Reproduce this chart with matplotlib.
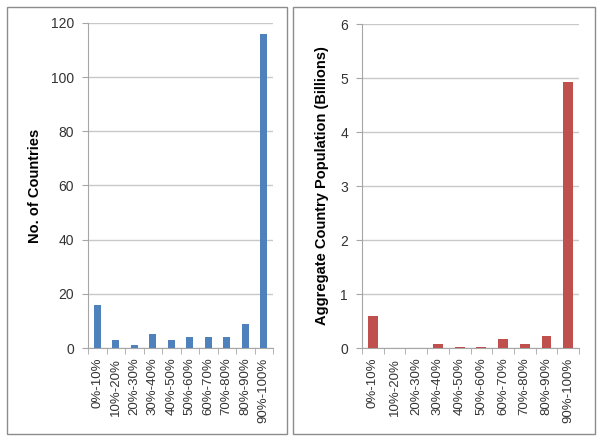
import matplotlib
matplotlib.use('Agg')
import matplotlib.pyplot as plt
from matplotlib.patches import Rectangle
import numpy as np

plt.rcParams['font.family'] = ['Liberation Sans', 'DejaVu Sans']

bins = ['0%-10%', '10%-20%', '20%-30%', '30%-40%', '40%-50%',
        '50%-60%', '60%-70%', '70%-80%', '80%-90%', '90%-100%']
countries = [16, 3, 1, 5, 3, 4, 4, 4, 9, 116]
population = [0.60, 0.0, 0.0, 0.08, 0.01, 0.01, 0.17, 0.07, 0.22, 4.93]

blue = '#4F81BD'
red = '#C0504D'
grid_c = '#C8C8C8'
axis_c = '#A6A6A6'

fig = plt.figure(figsize=(6, 4.4), dpi=100)

# outer frames around each chart
fig.patches.append(Rectangle((7 / 600, 1 - 434 / 440), 280 / 600, 427 / 440,
                             transform=fig.transFigure, fill=False,
                             edgecolor='#8C8C8C', linewidth=1.0))
fig.patches.append(Rectangle((293 / 600, 1 - 434 / 440), 302 / 600, 427 / 440,
                             transform=fig.transFigure, fill=False,
                             edgecolor='#8C8C8C', linewidth=1.0))

ax1 = fig.add_axes([88 / 600, 1 - 348 / 440, 185 / 600, 325 / 440])
ax2 = fig.add_axes([362 / 600, 1 - 348 / 440, 217 / 600, 324 / 440])


def style(ax, data, color, width, ymax, yticks, ylabel):
    x = np.arange(len(data))
    ax.bar(x, data, width, color=color, zorder=3)
    ax.set_xlim(-0.5, len(data) - 0.5)
    ax.set_ylim(0, ymax)
    ax.set_yticks(yticks)
    ax.set_xticks(x)
    ax.set_xticklabels(bins, rotation=90, fontsize=9.5, color='#333333')
    ax.set_xticks(np.arange(len(data) + 1) - 0.5, minor=True)
    ax.tick_params(axis='x', which='major', length=0, pad=7)
    ax.tick_params(axis='x', which='minor', length=4, color=axis_c, direction='out')
    ax.tick_params(axis='y', length=4, color=axis_c, direction='out',
                   labelsize=10, labelcolor='#333333', pad=6)
    ax.grid(axis='y', color=grid_c, linewidth=1.0, zorder=0)
    for s in ['top', 'right']:
        ax.spines[s].set_visible(False)
    ax.spines['left'].set_color(axis_c)
    ax.spines['bottom'].set_color(axis_c)
    ax.set_ylabel(ylabel, fontsize=10.5, fontweight='bold', color='black')


style(ax1, countries, blue, 0.4, 120, [0, 20, 40, 60, 80, 100, 120], 'No. of Countries')
style(ax2, population, red, 0.45, 6, [0, 1, 2, 3, 4, 5, 6],
      'Aggregate Country Population (Billions)')
ax1.yaxis.set_label_coords(-0.25, 0.5)
ax2.yaxis.set_label_coords(-0.15, 0.5)

fig.savefig('out.png', dpi=100)
